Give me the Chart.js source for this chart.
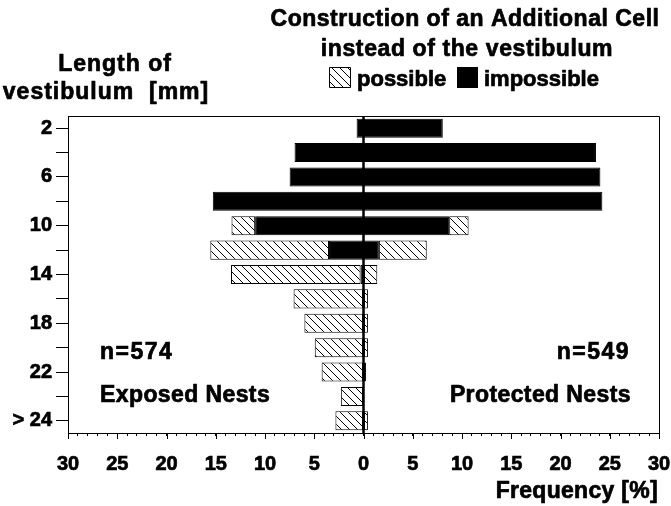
<!DOCTYPE html>
<html><head><meta charset="utf-8">
<script src="https://cdn.jsdelivr.net/npm/chart.js@4/dist/chart.umd.min.js"></script>
<style>html,body{margin:0;padding:0;background:#fff}#wrap{width:671px;height:506px}</style>
</head><body><div id="wrap"><canvas id="c" width="671" height="506"></canvas></div>
<script>
// Length of vestibulum [mm] categories
const categories = ['2','4','6','8','10','12','14','16','18','20','22','24','> 24'];
// Exposed nests (left side), frequency [%]
const exposedImpossible = [0.7, 7.0, 7.5, 15.3, 11.0, 3.5, 0.3, 0, 0, 0, 0, 0, 0];
const exposedPossible   = [0, 0, 0, 0, 2.4, 12.05, 13.15, 7.1, 6.0, 4.95, 4.25, 2.3, 2.85];
// Protected nests (right side), frequency [%]
const protectedImpossible = [8.05, 23.6, 24.05, 24.25, 8.7, 1.56, 0, 0, 0, 0, 0, 0, 0];
const protectedPossible   = [0, 0, 0, 0, 1.97, 4.86, 1.4, 0.45, 0.45, 0.45, 0.25, 0, 0.45];
const xMin = -30, xMax = 30;

const FONT = '"Liberation Sans", Arial, sans-serif';

// hatch pattern
const pc = document.createElement('canvas');
pc.width = 8; pc.height = 8;
const pctx = pc.getContext('2d');
pctx.fillStyle = '#fff'; pctx.fillRect(0,0,8,8);
pctx.strokeStyle = '#000'; pctx.lineWidth = 1;
pctx.beginPath();
pctx.moveTo(-1,-1); pctx.lineTo(9,9);
pctx.moveTo(-1,7); pctx.lineTo(1,9);
pctx.moveTo(7,-1); pctx.lineTo(9,1);
pctx.stroke();
const hatch = pctx.createPattern(pc, 'repeat');

function txt(ctx, s, x, y, align, size, spacing){
  ctx.font = 'bold ' + size + 'px ' + FONT;
  ctx.letterSpacing = spacing + 'px';
  ctx.textAlign = align;
  ctx.textBaseline = 'alphabetic';
  ctx.fillStyle = '#000';
  ctx.strokeStyle = '#000';
  ctx.lineWidth = 0.7;
  ctx.lineJoin = 'round';
  ctx.fillText(s, x, y);
  ctx.strokeText(s, x, y);
}

const decor = {
  id: 'decor',
  afterDatasetsDraw(chart){
    const {ctx, chartArea: a, scales: {x}} = chart;
    ctx.save();
    ctx.strokeStyle = '#000';
    ctx.lineWidth = 1;
    ctx.beginPath();
    ctx.moveTo(a.left, a.top + 0.5); ctx.lineTo(a.right + 0.5, a.top + 0.5);
    ctx.lineTo(a.right + 0.5, a.bottom);
    ctx.stroke();
    // major ticks
    ctx.beginPath();
    for (let v = xMin; v <= xMax; v += 5){
      const px = Math.round(x.getPixelForValue(v)) + 0.5;
      ctx.moveTo(px, a.bottom); ctx.lineTo(px, a.bottom + 6);
    }
    ctx.stroke();
    // center line
    const x0 = x.getPixelForValue(0);
    ctx.lineWidth = 2.5;
    ctx.beginPath();
    ctx.moveTo(x0, a.top); ctx.lineTo(x0, a.bottom);
    ctx.stroke();
    ctx.restore();
  },
  afterDraw(chart){
    const ctx = chart.ctx;
    ctx.save();
    txt(ctx, 'Construction of an Additional Cell', 465, 26, 'center', 23, 0.5);
    txt(ctx, 'instead of the vestibulum', 467, 56, 'center', 23, 0.6);
    txt(ctx, 'Length of', 115, 71, 'center', 23, 1);
    txt(ctx, 'vestibulum  [mm]', 106, 99, 'center', 23, 1);
    // legend
    ctx.fillStyle = hatch;
    ctx.fillRect(329, 67, 22, 21);
    ctx.strokeStyle = '#000'; ctx.lineWidth = 1;
    ctx.strokeRect(329.5, 67.5, 21, 20);
    txt(ctx, 'possible', 357, 86, 'left', 22, 0);
    ctx.fillStyle = '#000';
    ctx.fillRect(457, 67, 21, 21);
    txt(ctx, 'impossible', 484, 86, 'left', 22, 0);
    // annotations
    txt(ctx, 'n=574', 100, 359, 'left', 23, 1.5);
    txt(ctx, 'Exposed Nests', 100, 402, 'left', 23, 0.4);
    txt(ctx, 'n=549', 630, 359, 'right', 23, 1.5);
    txt(ctx, 'Protected Nests', 631, 402, 'right', 23, 0.4);
    txt(ctx, 'Frequency [%]', 658, 498, 'right', 23, 0.3);
    ctx.restore();
  }
};

const neg = a => a.map(v => -v);
const common = {stack: 's', categoryPercentage: 1, barPercentage: 0.78, borderSkipped: false, borderColor: '#000', borderWidth: 1};

new Chart(document.getElementById('c'), {
  type: 'bar',
  data: {
    labels: categories,
    datasets: [
      Object.assign({label: 'impossible (exposed)', data: neg(exposedImpossible), backgroundColor: '#000'}, common),
      Object.assign({label: 'possible (exposed)', data: neg(exposedPossible), backgroundColor: hatch}, common),
      Object.assign({label: 'impossible (protected)', data: protectedImpossible, backgroundColor: '#000'}, common),
      Object.assign({label: 'possible (protected)', data: protectedPossible, backgroundColor: hatch}, common)
    ]
  },
  options: {
    indexAxis: 'y',
    responsive: false,
    animation: false,
    devicePixelRatio: 1,
    layout: {padding: {left: 0, right: 12, top: 116, bottom: 0}},
    plugins: {legend: {display: false}, title: {display: false}, tooltip: {enabled: false}},
    scales: {
      x: {
        type: 'linear', min: xMin, max: xMax, stacked: true,
        ticks: {
          stepSize: 1, autoSkip: false, maxRotation: 0, minRotation: 0,
          callback: v => (v % 5 === 0 ? String(Math.abs(v)) : ''),
          font: {family: FONT, size: 20, weight: 'bold'}, color: '#000', padding: 16,
          textStrokeColor: '#000', textStrokeWidth: 0.7
        },
        grid: {drawOnChartArea: false, drawTicks: true, tickLength: 3, tickColor: '#000', tickWidth: 1},
        border: {display: true, color: '#000', width: 1},
        afterFit: s => { s.height = 73; s.paddingLeft = 0; s.paddingRight = 0; }
      },
      y: {
        type: 'category', stacked: true, offset: true,
        ticks: {
          autoSkip: false,
          callback: (v, i) => (i % 2 === 0 ? categories[i] : ''),
          font: {family: FONT, size: 20, weight: 'bold'}, color: '#000', padding: 4,
          textStrokeColor: '#000', textStrokeWidth: 0.7
        },
        grid: {offset: false, drawOnChartArea: false, drawTicks: true, tickLength: 12, tickColor: '#000', tickWidth: 1},
        border: {display: true, color: '#000', width: 1},
        afterFit: s => { s.width = 68; }
      }
    }
  },
  plugins: [decor]
});
</script>
</body></html>
